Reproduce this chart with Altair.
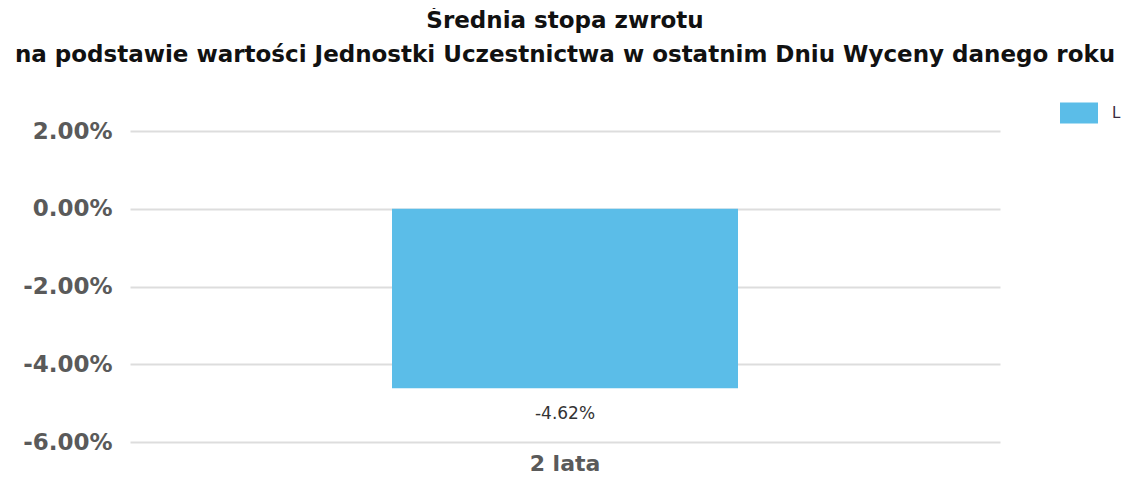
import altair as alt
import pandas as pd

categories = ["2 lata"]
series_name = ["L"]
values = [-0.0462]
y_ticks = [0.02, 0.0, -0.02, -0.04, -0.06]

df = pd.DataFrame({"okres": categories, "seria": series_name, "wartosc": values})

base = alt.Chart(df)

bars = base.mark_bar(size=346, color="#5bbde8").encode(
    x=alt.X("okres:N", title=None,
            axis=alt.Axis(labelAngle=0, labelFont="DejaVu Sans", labelFontWeight="bold",
                          labelFontSize=22, labelColor="#5a5a5a", labelPadding=11,
                          ticks=False, domain=False)),
    y=alt.Y("wartosc:Q", title=None,
            scale=alt.Scale(domain=[-0.06, 0.02], nice=False),
            axis=alt.Axis(values=y_ticks, format=".2%",
                          labelExpr="replace(datum.label, '\u2212', '-')",
                          labelFont="DejaVu Sans",
                          labelFontWeight="bold", labelFontSize=23, labelColor="#5a5a5a",
                          labelPadding=18, ticks=False, domain=False,
                          gridColor="#dddddd", gridWidth=2)),
    color=alt.Color("seria:N", scale=alt.Scale(range=["#5bbde8"]),
                    legend=alt.Legend(title=None, orient="none", legendX=930, legendY=-37,
                                      symbolType="M-1,-0.55H1V0.55H-1Z", symbolSize=1444,
                                      symbolStrokeWidth=0, labelFont="DejaVu Sans",
                                      labelFontSize=15, labelColor="#3a2a40", labelOffset=14)),
)

labels = base.transform_calculate(
    etykieta="replace(format(datum.wartosc, '.2%'), '\u2212', '-')"
).mark_text(baseline="top", dy=18, font="DejaVu Sans", fontSize=17,
            color="#333333").encode(
    x="okres:N",
    y="wartosc:Q",
    text="etykieta:N",
)

chart = (bars + labels).properties(
    width=870, height=311,
    autosize=alt.AutoSizeParams(type="none"),
    padding={"left": 122, "top": 123, "right": 125, "bottom": 34},
    title=alt.TitleParams(
        text=["Średnia stopa zwrotu",
              "na podstawie wartości Jednostki Uczestnictwa w ostatnim Dniu Wyceny danego roku"],
        font="DejaVu Sans", fontWeight="bold", fontSize=23, color="#111111",
        anchor="middle", lineHeight=34, offset=27,
    ),
).configure_view(stroke=None)

chart.save("out.html", embed_options={"renderer": "svg", "actions": False})
